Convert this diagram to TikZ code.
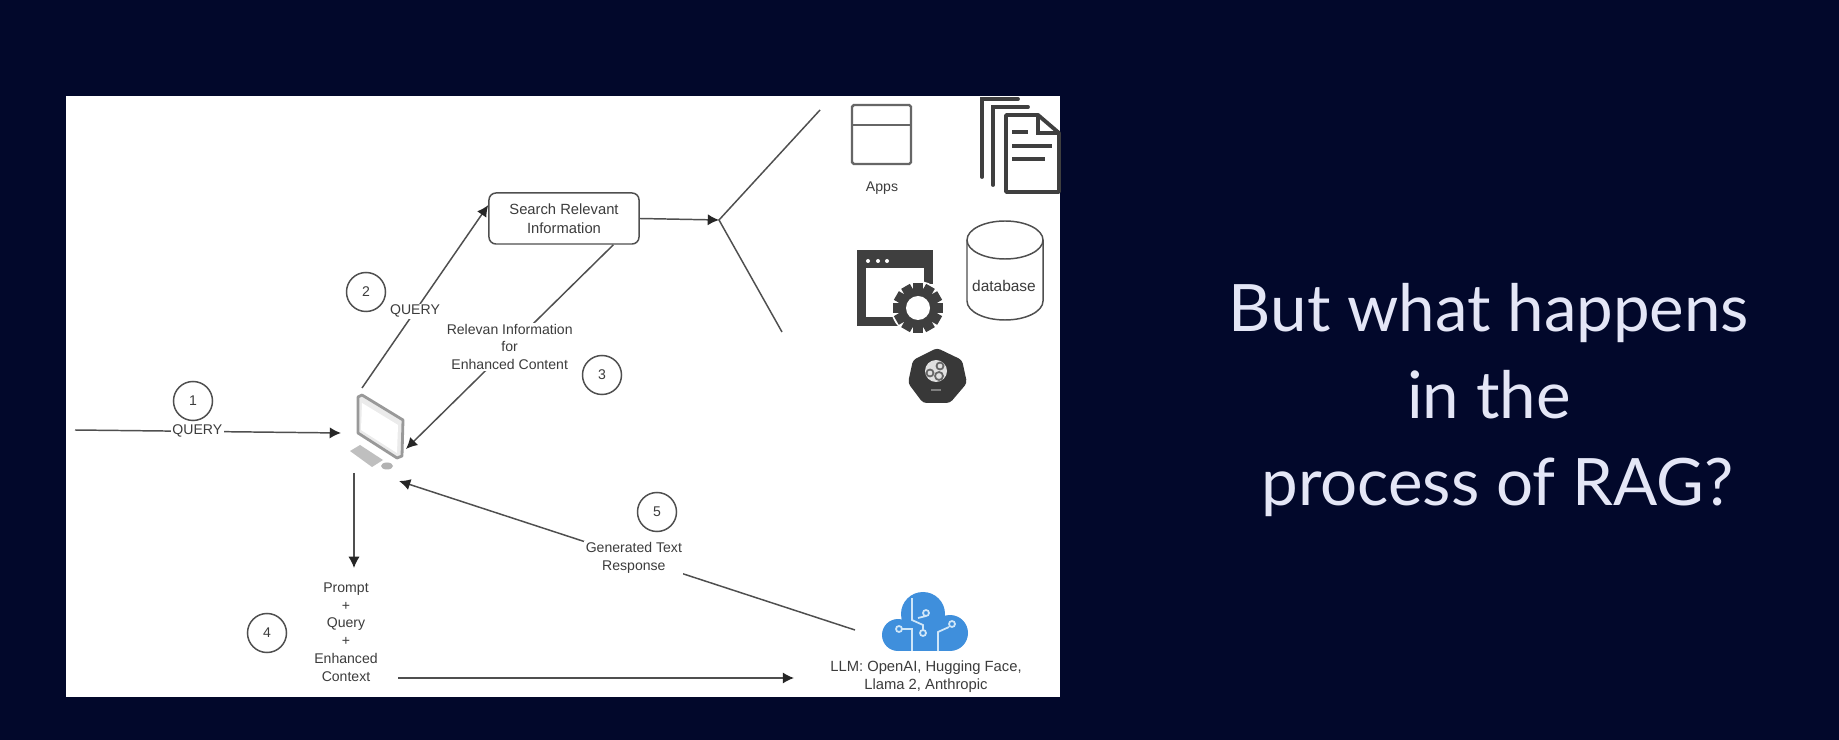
\documentclass[tikz,border=0pt]{standalone}
\usepackage{fontspec}
\setmainfont{Liberation Sans}
\newfontfamily\headfont{Lato}
\usetikzlibrary{arrows.meta}
\definecolor{slidebg}{HTML}{02082B}
\definecolor{inktext}{HTML}{3C3C3C}
\definecolor{inkline}{HTML}{4F4F4F}
\definecolor{icondark}{HTML}{3F3F3F}
\definecolor{cloudblue}{HTML}{3F8FDC}
\definecolor{cloudline}{HTML}{CFE6F8}
\definecolor{headtext}{HTML}{E4E6F6}
\tikzset{
	conn/.style={line width=0.42pt, color=inkline, -{Latex[length=3.2pt,width=3.2pt,color=black!85]}},
	plainconn/.style={line width=0.42pt, color=inkline},
	stepmark/.style={circle, draw=inkline, line width=0.42pt, minimum size=0.39cm, inner sep=0pt, text=inktext, font=\fontsize{4}{5}\selectfont},
	tag/.style={fill=white, inner sep=0.4pt, align=center, text=inktext, font=\fontsize{4}{5.05}\selectfont},
	note/.style={align=center, inner sep=0pt, text=inktext, font=\fontsize{4}{5.05}\selectfont},
}

\begin{document}
\begin{tikzpicture}[x=0.01cm, y=-0.01cm]
			%%%%% START %%%%%
			
			\useasboundingbox (0, 0) rectangle (1839, 740);
			\fill[slidebg] (0, 0) rectangle (1839, 740);
			\fill[white] (66, 96) rectangle (1060, 697);
			
			% computer
			\fill[black!25] (350, 451) -- (360, 445) -- (383, 460) -- (372, 467) -- cycle;
			\fill[black!30] (387, 466) ellipse (6 and 3.5);
			\draw[line width=0.8pt, color=black!40, fill=black!8, line join=round] (358, 397) -- (362, 395) -- (403, 420) -- (402, 456) -- (397, 458) -- (358, 433) -- cycle;
			\fill[white] (362, 403) -- (398, 425) -- (397, 453) -- (361, 430) -- cycle;
			
			\coordinate (pcin) at (341, 433);
			\coordinate (pcup) at (362, 388);
			\coordinate (pcside) at (406, 449);
			\coordinate (pcdown) at (354, 473);
			\coordinate (pcback) at (399, 481);
			\coordinate (querystart) at (75, 430);
			\coordinate (fork) at (719, 220);
			\coordinate (forkup) at (820, 110);
			\coordinate (forkdown) at (782, 332);
			\coordinate (promptin) at (354, 568);
			\coordinate (promptout) at (398, 678);
			\coordinate (llmin) at (794, 678);
			\coordinate (llmout) at (855, 630);
			
			\node[draw=inkline, line width=0.42pt, rounded corners=2pt, minimum width=1.5cm, minimum height=0.51cm, align=center, inner sep=0pt, text=inktext, font=\fontsize{4.2}{5.3}\selectfont] (search) at (564, 218.5) {Search Relevant\\Information};
			
			\draw[conn] (querystart) -- node[tag, pos=0.46] (queryone) {QUERY} (pcin);
			\draw[conn] (pcup) -- node[tag, pos=0.42] (querytwo) {QUERY} (search.170);
			\draw[conn] (search.-28) -- node[tag, pos=0.5] (relevant) {Relevan Information\\for\\Enhanced Content} (pcside);
			\draw[conn] (search.east) -- (fork);
			\draw[plainconn] (forkup) -- (fork) -- (forkdown);
			\draw[conn] (pcdown) -- (promptin);
			\draw[conn] (promptout) -- (llmin);
			\draw[conn] (llmout) -- node[tag, pos=0.485] (generated) {Generated Text\\Response} (pcback);
			
			\node[stepmark] (stepa) at (193, 401) {1};
			\node[stepmark] (stepb) at (366, 292) {2};
			\node[stepmark] (stepc) at (602, 375) {3};
			\node[stepmark] (stepd) at (267, 633) {4};
			\node[stepmark] (stepe) at (657, 512) {5};
			
			\node[note] (prompt) at (346, 632) {Prompt\\+\\Query\\+\\Enhanced\\Context};
			
			% apps
			\draw[line width=0.7pt, color=black!60, rounded corners=0.5pt] (852, 105) rectangle (911, 164);
			\draw[line width=0.7pt, color=black!60] (852, 125) -- (911, 125);
			\node[note] (apps) at (882, 188) {Apps};
			
			% documents
			\draw[line width=1.1pt, color=icondark, line cap=round] (1018, 99) -- (982, 99) -- (982, 177);
			\draw[line width=1.1pt, color=icondark, line cap=round] (1028, 107) -- (993, 107) -- (993, 185);
			\draw[line width=1.1pt, color=icondark, fill=white, line join=round] (1006, 115) -- (1038, 115) -- (1059, 133) -- (1059, 192) -- (1006, 192) -- cycle;
			\draw[line width=1.1pt, color=icondark] (1038, 115) -- (1038, 133) -- (1059, 133);
			\draw[line width=1.1pt, color=icondark] (1012, 132) -- (1028, 132);
			\draw[line width=1.1pt, color=icondark] (1012, 146) -- (1052, 146);
			\draw[line width=1.1pt, color=icondark] (1012, 159) -- (1045, 159);
			
			% database
			\draw[line width=0.42pt, color=inkline] (967, 240) -- (967, 301) arc (180:0:38 and 19) -- (1043, 240);
			\draw[line width=0.42pt, color=inkline] (1005, 240) ellipse (38 and 19);
			\node[note, font=\fontsize{4.4}{5}\selectfont] (database) at (1004, 286) {database};
			
			% window with gear
			\fill[icondark] (857, 250) rectangle (933, 326);
			\fill[white] (866, 268) rectangle (924, 317);
			\fill[white] (868, 261) circle (2);
			\fill[white] (878, 261) circle (2);
			\fill[white] (887, 261) circle (2);
			\fill[white] (918, 308) circle (27);
			\fill[white] (935, 284) rectangle (905, 335);
			\fill[icondark] (918, 308) circle (20);
			\foreach \a in {0,30,...,330} {
				\fill[icondark, rotate around={\a:(918, 308)}] (913, 283) rectangle (923, 292);
			}
			\fill[white] (918, 308) circle (12);
			
			% api badge
			\fill[black!78, rounded corners=1pt] (937, 348) -- (962, 360) -- (967, 383) -- (950, 403) -- (923, 403) -- (908, 383) -- (913, 360) -- cycle;
			\fill[black!12] (936, 371) circle (11);
			\draw[black!60, line width=0.5pt] (940, 366) circle (3.5);
			\draw[black!60, line width=0.5pt] (930, 373) circle (3.5);
			\draw[black!60, line width=0.5pt] (939, 376) circle (4);
			\draw[black!50, line width=0.7pt] (931, 390) -- (941, 390);
			
			% cloud
			\fill[cloudblue] (898, 635) circle (16);
			\fill[cloudblue] (923, 614) circle (22);
			\fill[cloudblue] (950, 633) circle (18);
			\fill[cloudblue] (898, 622) rectangle (950, 651);
			\draw[cloudline, line width=0.5pt] (912, 598) -- (912, 620) -- (923, 625) -- (923, 630);
			\draw[cloudline, line width=0.5pt] (923, 633) circle (3);
			\draw[cloudline, line width=0.5pt] (899, 629) circle (3);
			\draw[cloudline, line width=0.5pt] (902, 629) -- (912, 629) -- (912, 651);
			\draw[cloudline, line width=0.5pt] (952, 624) circle (3);
			\draw[cloudline, line width=0.5pt] (949, 627) -- (938, 632) -- (938, 651);
			\draw[cloudline, line width=0.5pt] (926, 613) circle (3);
			\draw[cloudline, line width=0.5pt] (926, 616) -- (918, 618);
			\node[note, font=\fontsize{4.2}{5.05}\selectfont] (llm) at (926, 677) {LLM: OpenAI, Hugging Face,\\Llama 2, Anthropic};
			
			% title on the right
			\node[align=center, inner sep=0pt, text=headtext, font=\headfont\fontsize{18.6}{24.7}\selectfont] (title) at (1489, 400) {But what happens\\in the\\\ process of RAG?};
			
			%%%%% END %%%%%
		\end{tikzpicture}
\end{document}
